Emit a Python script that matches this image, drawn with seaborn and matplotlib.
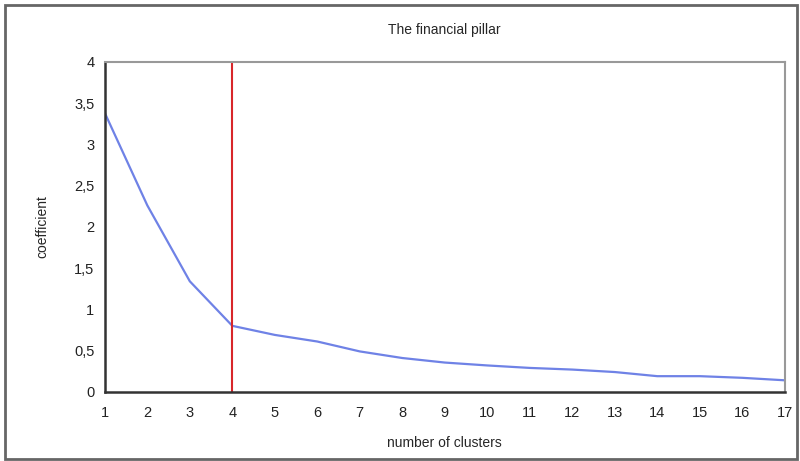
import pandas as pd
import matplotlib.pyplot as plt
import seaborn as sns
from matplotlib.patches import Rectangle

clusters = list(range(1, 18))
coefficient = [3.38, 2.26, 1.34, 0.80, 0.69, 0.61, 0.49, 0.41, 0.355,
               0.32, 0.29, 0.27, 0.24, 0.19, 0.19, 0.17, 0.14]
cut_at = 4

df = pd.DataFrame({'clusters': clusters, 'coefficient': coefficient})

sns.set_style('white')
plt.rcParams['font.family'] = ['Liberation Sans', 'DejaVu Sans']

fig = plt.figure(figsize=(8, 4.61), dpi=100)
ax = fig.add_axes([0.131, 0.150, 0.850, 0.716])

sns.lineplot(data=df, x='clusters', y='coefficient', ax=ax, color='#6f82e6', linewidth=1.6)
ax.axvline(cut_at, color='#d8262a', linewidth=1.5)

ax.set_xlim(1, 17)
ax.set_ylim(0, 4)
ax.set_xticks(clusters)
yt = [0, 0.5, 1, 1.5, 2, 2.5, 3, 3.5, 4]
ax.set_yticks(yt)
ax.set_yticklabels([f'{v:g}'.replace('.', ',') for v in yt])
ax.tick_params(axis='both', direction='out', length=4, width=1.2, labelsize=10.5,
               color='#333333', labelcolor='#222222')
ax.tick_params(axis='x', pad=6)

for side in ['left', 'bottom']:
    ax.spines[side].set_color('#333333')
    ax.spines[side].set_linewidth(1.8)
for side in ['top', 'right']:
    ax.spines[side].set_color('#999999')
    ax.spines[side].set_linewidth(1.5)

ax.set_title('The financial pillar', fontsize=10, pad=20)
ax.set_xlabel('number of clusters', fontsize=10, labelpad=12)
ax.set_ylabel('coefficient', fontsize=10, labelpad=18)

fig.patches.append(Rectangle((0.006, 0.004), 0.99, 0.985, transform=fig.transFigure,
                             fill=False, edgecolor='#666666', linewidth=2))

fig.savefig('out.png', dpi=100)
